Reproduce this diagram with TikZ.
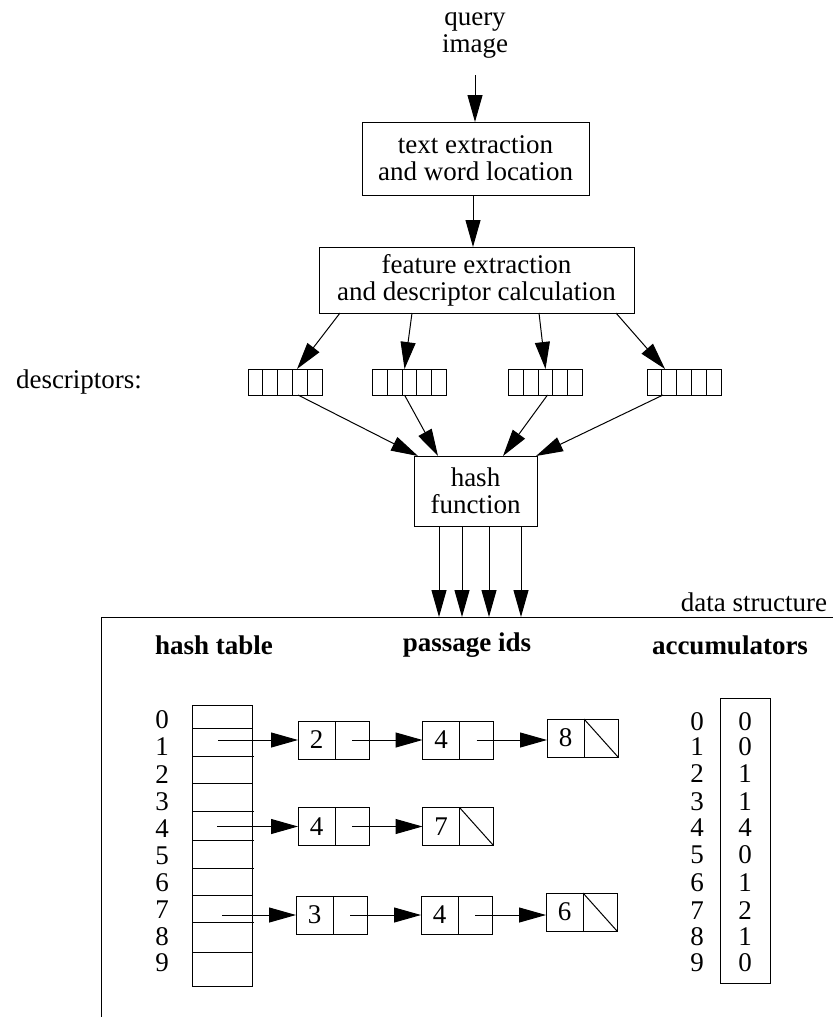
\documentclass[tikz,border=0pt]{standalone}
\usepackage{fontspec}
\setmainfont{Liberation Serif}
\usetikzlibrary{arrows.meta,calc}
\begin{document}
\begin{tikzpicture}[x=0.5pt,y=-0.5pt,
  every node/.style={font=\rmfamily\fontsize{13.5}{13.5}\selectfont, inner sep=0pt, outer sep=0pt},
  ln/.style={line width=0.5pt},
  box/.style={draw, ln, align=center},
  desc/.style={draw, ln, minimum width=37pt, minimum height=13pt},
  cellL/.style={draw, ln, minimum width=18.5pt, minimum height=19pt},
  cellR/.style={draw, ln, minimum width=17pt, minimum height=19pt, anchor=west},
  arr/.style={ln, -{Triangle[length=13.5pt,width=7.5pt]}},
  hdr/.style={font=\rmfamily\fontsize{13.5}{13.5}\selectfont\bfseries}
]
\useasboundingbox (0,0) rectangle (833,1017);

% top flow
\node[align=center] (q) at (475,35) {query\\image};
\node[box, minimum width=113.5pt, minimum height=36.5pt] (b1) at (475.5,158.5) {text extraction\\and word location};
\node[box, minimum width=157.5pt, minimum height=33pt] (b2) at (476.5,280) {feature extraction\\and descriptor calculation};
\node[box, minimum width=61.5pt, minimum height=35pt] (h) at (475.5,491) {hash\\function};

\coordinate (qa) at (475,75);
\draw[arr] (qa) -- (qa |- b1.north);
\draw[arr] (b1.south -| 473,0) -- (b2.north -| 473,0);

% descriptors
\node at (79,382) {descriptors:};
\node[desc] (d1) at (285,382) {};
\node[desc] (d2) at (409.5,382) {};
\node[desc] (d3) at (545.5,382) {};
\node[desc] (d4) at (684,382) {};
\foreach \d in {d1,d2,d3,d4}{
  \foreach \i in {1,2,3,4}{
    \draw[ln] ($(\d.north west)!\i/5!(\d.north east)$) -- ($(\d.south west)!\i/5!(\d.south east)$);
  }
}
\draw[arr] ($(b2.south west)+(21,0)$) -- ($(d1.north west)+(49,0)$);
\draw[arr] ($(b2.south west)+(93,0)$) -- ($(d2.north west)+(32,0)$);
\draw[arr] ($(b2.south west)+(220,0)$) -- ($(d3.north west)+(37,0)$);
\draw[arr] ($(b2.south west)+(297,0)$) -- ($(d4.north west)+(18,0)$);

\draw[arr] ($(d1.south west)+(50,0)$) -- ($(h.north west)+(4,0)$);
\draw[arr] ($(d2.south west)+(32,0)$) -- ($(h.north west)+(24,0)$);
\draw[arr] ($(d3.south west)+(39,0)$) -- ($(h.north west)+(89,0)$);
\draw[arr] ($(d4.south west)+(16,0)$) -- ($(h.north west)+(122,0)$);

% hash -> data structure
\foreach \o in {25,48,75,107}{
  \draw[arr] ($(h.south west)+(\o,0)$) -- ++(0,91);
}

% data structure frame
\coordinate (fc) at (101,617);
\draw[ln] (833,617) -- (fc) -- (101,1017);
\node at (754,602) {data structure};

\node[hdr] at (214,645) {hash table};
\node[hdr] at (467,645) {passage ids};
\node[hdr] at (730,645) {accumulators};

% hash table
\node[draw, ln, minimum width=30pt, minimum height=140.5pt] (ht) at (222,845.5) {};
\foreach \y in {728,783,895,952}{
  \draw[ln] (192,\y) -- (252,\y);
}
\foreach \y in {756,811,840,868,922}{
  \draw[ln] (192,\y) -- (254,\y);
}
\foreach \n/\y in {0/720,1/747,2/775,3/802,4/829,5/856,6/883,7/910,8/937,9/963}{
  \node at (162,\y) {\n};
}

% linked lists
\node[cellL] (Al) at (316.5,740) {2};
\node[cellR] (Ar) at (Al.east) {};
\node[cellL] (Bl) at (441,740) {4};
\node[cellR] (Br) at (Bl.east) {};
\node[cellL] (Cl) at (565.5,738) {8};
\node[cellR] (Cr) at (Cl.east) {};
\draw[ln] (Cr.north west) -- (Cr.south east);

\node[cellL] (Dl) at (316.5,826.5) {4};
\node[cellR] (Dr) at (Dl.east) {};
\node[cellL] (El) at (441,826.5) {7};
\node[cellR] (Er) at (El.east) {};
\draw[ln] (Er.north west) -- (Er.south east);

\node[cellL] (Fl) at (314.5,915) {3};
\node[cellR] (Fr) at (Fl.east) {};
\node[cellL] (Gl) at (439.5,915) {4};
\node[cellR] (Gr) at (Gl.east) {};
\node[cellL] (Hl) at (564.5,912) {6};
\node[cellR] (Hr) at (Hl.east) {};
\draw[ln] (Hr.north west) -- (Hr.south east);

\coordinate (p1) at (218,740);
\coordinate (p4) at (217,826.5);
\coordinate (p7) at (222,915);
\draw[arr] (p1) -- (Al.west);
\draw[arr] (p4) -- (Dl.west);
\draw[arr] (p7) -- (Fl.west);

\draw[arr] (Ar.center) -- (Ar.center -| Bl.west);
\draw[arr] (Br.center) -- (Br.center -| Cl.west);
\draw[arr] (Dr.center) -- (Dr.center -| El.west);
\draw[arr] (Fr.center) -- (Fr.center -| Gl.west);
\draw[arr] (Gr.center) -- (Gr.center -| Hl.west);

% accumulators
\node[draw, ln, minimum width=25pt, minimum height=142.5pt] (acc) at (745,840.5) {};
\foreach \n/\v/\y in {0/0/722,1/0/747,2/1/774,3/1/802,4/4/828,5/0/855,6/1/883,7/2/911,8/1/937,9/0/963}{
  \node at (697,\y) {\n};
  \node at (745,\y) {\v};
}
\end{tikzpicture}
\end{document}
